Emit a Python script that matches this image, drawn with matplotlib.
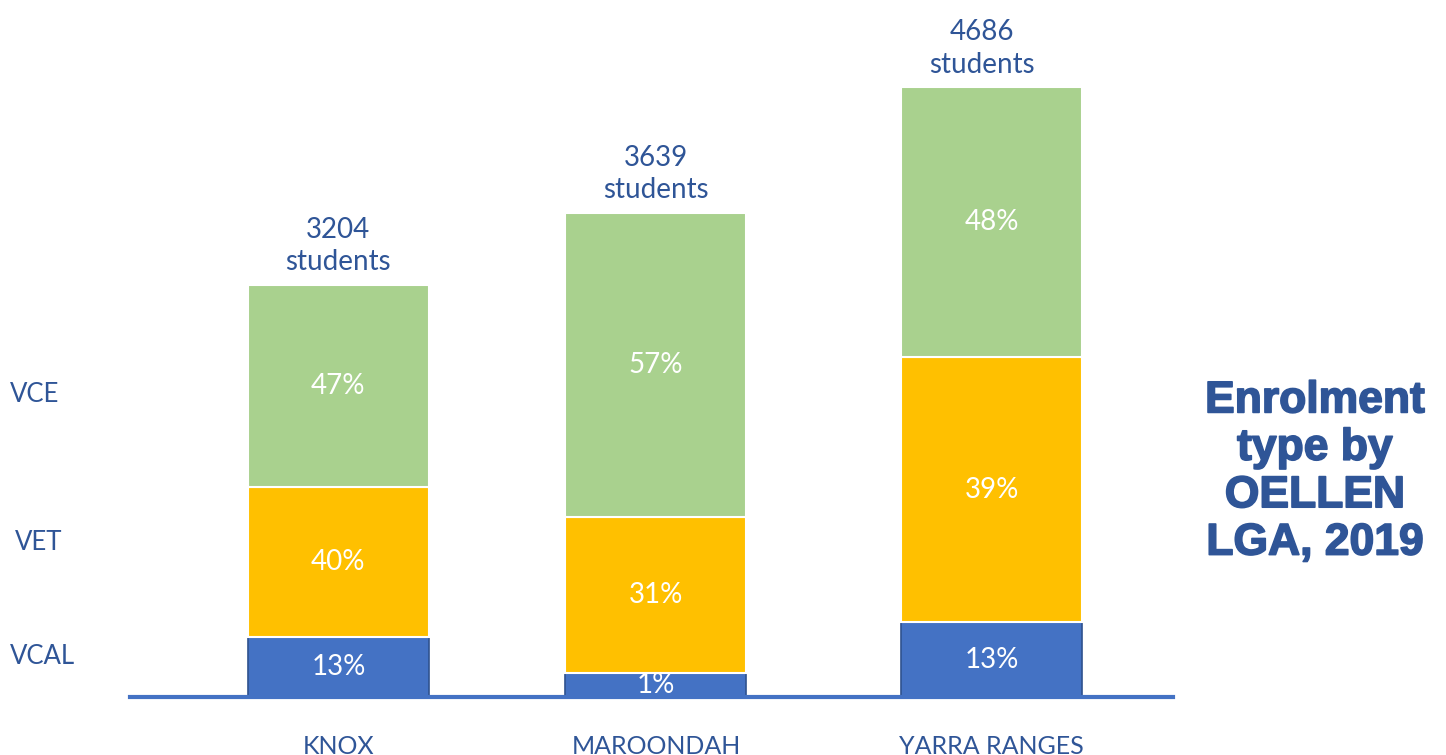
import numpy as np
import matplotlib
matplotlib.use("Agg")
import matplotlib.pyplot as plt
import matplotlib.patheffects as pe

# --------------------------
# Data
# --------------------------
lgas = ["KNOX", "MAROONDAH", "YARRA RANGES"]
totals = [3204, 3639, 4686]

# segment sizes in students
vcal = [467, 187, 583]
vet = [1167, 1213, 2061]
vce = [1571, 2364, 2100]

vcal_pct = ["13%", "1%", "13%"]
vet_pct = ["40%", "31%", "39%"]
vce_pct = ["47%", "57%", "48%"]

types = ["VCE", "VET", "VCAL"]

# --------------------------
# Plot
# --------------------------
plt.rcParams['font.family'] = ['Lato', 'DejaVu Sans']
dark = '#2F5597'

W, H = 1446, 755
fig = plt.figure(figsize=(W/100, H/100), dpi=100)
ax = fig.add_axes([130/W, 58/H, (1173-130)/W, 697/H])

# middle bar sits a little left of even spacing in the original
x = np.arange(len(lgas)) + np.array([0, -0.028, 0])
w = 0.554
b1 = np.array(vcal)
b2 = b1 + np.array(vet)

ax.bar(x, vcal, w, color='#4472C4', edgecolor='#2F528F', linewidth=1.2, zorder=2)
ax.bar(x, vet, w, bottom=b1, color='#FFC000', edgecolor='white', linewidth=1.5, zorder=2)
ax.bar(x, vce, w, bottom=b2, color='#A9D18E', edgecolor='white', linewidth=1.5, zorder=2)

fs = 20
lab_shift = [0, 0, -7]   # total label for Yarra sits slightly left in the original
for i in range(len(lgas)):
    ax.text(x[i], vcal[i]/2, vcal_pct[i], ha='center', va='center', color='white', fontsize=fs)
    ax.text(x[i], b1[i] + vet[i]/2, vet_pct[i], ha='center', va='center', color='white', fontsize=fs)
    ax.text(x[i], b2[i] + vce[i]/2, vce_pct[i], ha='center', va='center', color='white', fontsize=fs)
    top = b2[i] + vce[i]
    ax.annotate(f"{totals[i]}\nstudents", (x[i], top), xytext=(lab_shift[i], 7), textcoords='offset points',
                ha='center', va='bottom', color=dark, fontsize=20, linespacing=1.3)

ax.set_xlim(-0.638, 2.555)
ax.set_ylim(0, 697*7.78)
ax.set_yticks([])
ax.set_xticks(x)
ax.set_xticklabels(lgas, fontsize=18, color=dark)
ax.tick_params(axis='x', length=0, pad=27)
for s in ['top', 'right', 'left']:
    ax.spines[s].set_visible(False)
ax.spines['bottom'].set_color('#4472C4')
ax.spines['bottom'].set_linewidth(3)

# row labels on the left
for lab, ypx, xpx in zip(types, [395, 543, 657], [10, 15, 10]):
    fig.text(xpx/W, 1 - ypx/H, lab, ha='left', va='center', color=dark, fontsize=18.5)

fig.text(1315/W, 1 - 472/H, "Enrolment\ntype by\nOELLEN\nLGA, 2019", ha='center', va='center',
         color=dark, fontsize=32, fontweight='bold', family='Liberation Sans', linespacing=1.2,
         path_effects=[pe.withStroke(linewidth=1.2, foreground=dark)])

plt.savefig("out.png", dpi=100)
